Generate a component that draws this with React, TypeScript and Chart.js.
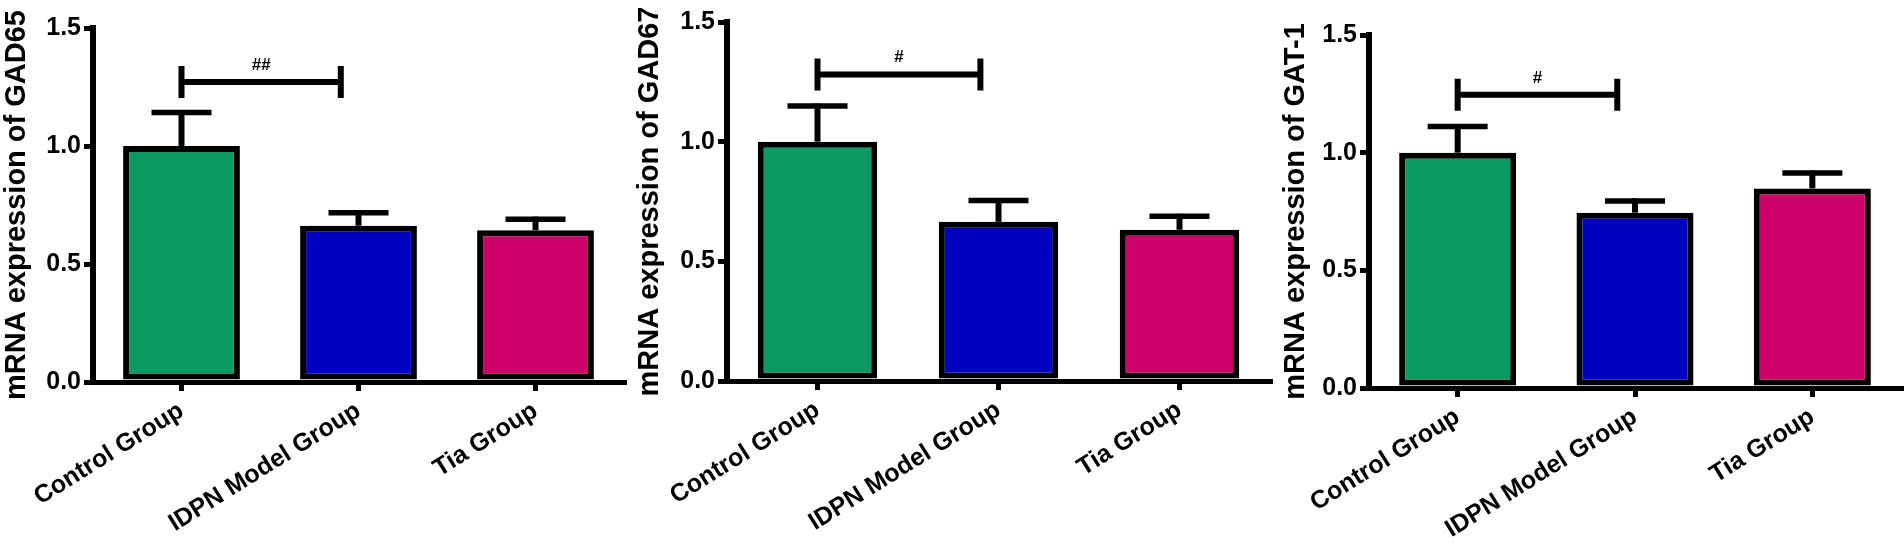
import React, { useEffect, useRef } from "react";
import { Chart, registerables } from "chart.js";

Chart.register(...registerables);

// data (mean and upper error of relative mRNA expression)
const groups = ["Control Group", "IDPN Model Group", "Tia Group"];
const barColors = ["#0B9A63", "#0000C0", "#CC0066"];
const yTicks = [0, 0.5, 1.0, 1.5];

const gad65Mean = [1.0, 0.662, 0.643];
const gad65Err = [0.142, 0.055, 0.047];
const gad67Mean = [1.0, 0.665, 0.632];
const gad67Err = [0.149, 0.089, 0.056];
const gat1Mean = [1.0, 0.745, 0.848];
const gat1Err = [0.111, 0.05, 0.066];

const yTitles = [
  "mRNA expression of GAD65",
  "mRNA expression of GAD67",
  "mRNA expression of GAT-1",
];
const sigLabels = ["##", "#", "#"];
const sigHeights = [1.271, 1.281, 1.246];
const sigFrom = 0;
const sigTo = 0.9;

const FONT = "'Liberation Sans', Arial, sans-serif";
const H = 554;

type Panel = {
  mean: number[];
  err: number[];
  title: string;
  sig: string;
  sigY: number;
  left: number; // canvas left on page
  width: number;
  areaLeft: number;
  areaRight: number;
  areaTop: number;
  areaBottom: number;
};

const panels: Panel[] = [
  { mean: gad65Mean, err: gad65Err, title: yTitles[0], sig: sigLabels[0], sigY: sigHeights[0],
    left: 0, width: 630, areaLeft: 93, areaRight: 624, areaTop: 28, areaBottom: 382 },
  { mean: gad67Mean, err: gad67Err, title: yTitles[1], sig: sigLabels[1], sigY: sigHeights[1],
    left: 633, width: 640, areaLeft: 94, areaRight: 637, areaTop: 22, areaBottom: 381 },
  { mean: gat1Mean, err: gat1Err, title: yTitles[2], sig: sigLabels[2], sigY: sigHeights[2],
    left: 1279, width: 625, areaLeft: 90, areaRight: 622, areaTop: 35, areaBottom: 388 },
];

const BarPanel = ({ p }: { p: Panel }) => {
  const ref = useRef<HTMLCanvasElement | null>(null);

  useEffect(() => {
    if (!ref.current) return;

    const extras = {
      id: "extras",
      afterDatasetsDraw(chart: any) {
        const { ctx, scales } = chart;
        const x = scales.x;
        const y = scales.y;
        const meta = chart.getDatasetMeta(0);
        ctx.save();
        ctx.strokeStyle = "#000";
        ctx.lineCap = "butt";
        // error bars (upper half only, like the original)
        p.mean.forEach((m, i) => {
          const cx = meta.data[i].x;
          const y0 = y.getPixelForValue(m);
          const y1 = y.getPixelForValue(m + p.err[i]);
          ctx.lineWidth = 6;
          ctx.beginPath();
          ctx.moveTo(cx, y0);
          ctx.lineTo(cx, y1 - 2.5);
          ctx.stroke();
          ctx.lineWidth = 5.5;
          ctx.beginPath();
          ctx.moveTo(cx - 30, y1);
          ctx.lineTo(cx + 30, y1);
          ctx.stroke();
        });
        // significance bracket
        const bx0 = x.getPixelForValue(sigFrom);
        const bx1 = x.getPixelForValue(sigTo);
        const by = y.getPixelForValue(p.sigY);
        ctx.lineWidth = 6;
        ctx.beginPath();
        ctx.moveTo(bx0, by);
        ctx.lineTo(bx1, by);
        ctx.moveTo(bx0, by - 16);
        ctx.lineTo(bx0, by + 16);
        ctx.moveTo(bx1, by - 16);
        ctx.lineTo(bx1, by + 16);
        ctx.stroke();
        ctx.fillStyle = "#000";
        ctx.font = `bold 17px ${FONT}`;
        ctx.textAlign = "center";
        ctx.textBaseline = "alphabetic";
        ctx.fillText(p.sig, (bx0 + bx1) / 2, by - 12);
        ctx.restore();
      },
    };

    const chart = new Chart(ref.current, {
      type: "bar",
      data: {
        labels: groups,
        datasets: [
          {
            data: p.mean,
            backgroundColor: barColors,
            borderColor: "#000",
            borderWidth: 6,
            borderSkipped: false,
            barPercentage: 0.66,
            categoryPercentage: 1,
          },
        ],
      },
      options: {
        responsive: false,
        animation: false,
        layout: {
          padding: { left: 0, top: p.areaTop, right: p.width - p.areaRight, bottom: 0 },
        },
        plugins: {
          legend: { display: false },
          tooltip: { enabled: false },
        },
        scales: {
          x: {
            offset: true,
            grid: {
              offset: false,
              drawOnChartArea: false,
              drawTicks: true,
              tickLength: 9,
              tickWidth: 5,
              tickColor: "#000",
              color: "#000",
              lineWidth: 5,
            },
            border: { display: true, color: "#000", width: 5 },
            ticks: {
              autoSkip: false,
              minRotation: 32,
              maxRotation: 32,
              color: "#000",
              padding: 5,
              font: { family: FONT, size: 25, weight: "bold" },
            },
            afterFit(scale: any) {
              scale.height = H - p.areaBottom;
            },
          },
          y: {
            min: 0,
            max: 1.5,
            afterBuildTicks(scale: any) {
              scale.ticks = yTicks.map((v) => ({ value: v }));
            },
            grid: {
              drawOnChartArea: false,
              drawTicks: true,
              tickLength: 9,
              tickWidth: 5,
              tickColor: "#000",
              color: "#000",
              lineWidth: 5,
            },
            border: { display: true, color: "#000", width: 6 },
            ticks: {
              color: "#000",
              padding: 3,
              callback: (v: any) => Number(v).toFixed(1),
              font: { family: FONT, size: 25, weight: "bold" },
            },
            title: {
              display: true,
              text: p.title,
              color: "#000",
              padding: 0,
              font: { family: FONT, size: 29, weight: "bold" },
            },
            afterFit(scale: any) {
              scale.width = p.areaLeft;
            },
          },
        },
      },
      plugins: [extras],
    });

    return () => {
      chart.destroy();
    };
  }, [p]);

  return (
    <canvas
      ref={ref}
      width={p.width}
      height={H}
      style={{ position: "absolute", left: p.left, top: 0, width: p.width, height: H }}
    />
  );
};

const App = () => {
  return (
    <div style={{ position: "fixed", left: 0, top: 0, width: 1904, height: H, background: "#fff" }}>
      {panels.map((p, i) => (
        <BarPanel key={i} p={p} />
      ))}
    </div>
  );
};

export default App;
